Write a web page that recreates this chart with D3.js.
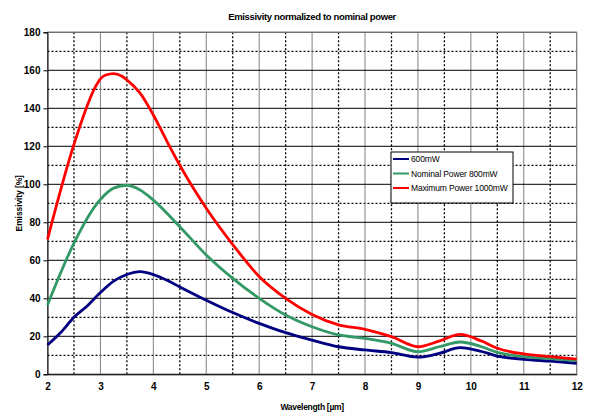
<!DOCTYPE html>
<html>
<head>
<meta charset="utf-8">
<script src="https://cdn.jsdelivr.net/npm/d3@7"></script>
<style>
  body { margin: 0; background: #fff; }
  svg text { font-family: "Liberation Sans", Arial, sans-serif; }
</style>
</head>
<body>
<div id="chart"></div>
<script>
// wavelength [um] and emissivity [%]
var wl600 = [2, 2.25, 2.5, 2.75, 3, 3.25, 3.5, 3.75, 4, 4.25, 4.5, 5, 5.5, 6, 6.5, 7, 7.5, 8, 8.5, 9, 9.4, 9.8, 10.2, 10.5, 11, 11.5, 12];
var em600 = [15.4, 22, 30, 36, 43, 49, 52.5, 54, 52.5, 49.6, 46, 39, 32.5, 26.8, 21.9, 18, 14.5, 12.8, 11.4, 9, 11, 14, 12, 9.6, 7.9, 6.9, 5.8];

var wl800 = [2, 2.5, 2.9, 3, 3.25, 3.5, 3.75, 4, 4.5, 5, 5.5, 6, 6.5, 7, 7.5, 8, 8.5, 9, 9.4, 9.8, 10.2, 10.5, 11, 11.5, 12];
var em800 = [36.5, 69, 88.5, 92, 98, 99.5, 97, 91.7, 77.7, 62.8, 50.5, 40, 31.2, 25, 20.7, 18.9, 16.3, 11.9, 14.5, 17, 14.5, 11.5, 9.3, 8.2, 7.2];

var wl1000 = [2, 2.5, 2.9, 3, 3.1, 3.25, 3.4, 3.5, 3.75, 4, 4.25, 4.5, 5, 5.5, 6, 6.5, 7, 7.5, 8, 8.5, 9, 9.4, 9.8, 10.2, 10.5, 11, 11.5, 12];
var em1000 = [71, 121, 151, 155.5, 157.5, 158.3, 157, 155, 148, 136.5, 123, 110, 87.4, 68.3, 51.5, 40, 31.5, 26, 23.7, 19.8, 14.5, 17.5, 21, 17.5, 13.7, 10.7, 9.3, 8];

var seriesNames = ["600mW", "Nominal Power 800mW", "Maximum Power 1000mW"];
var seriesColors = ["#000080", "#339966", "#ff0000"];

var xTicks = [2, 3, 4, 5, 6, 7, 8, 9, 10, 11, 12];
var yTicks = [0, 20, 40, 60, 80, 100, 120, 140, 160, 180];

function init() {
    var w = 589, h = 414;
    var padLeft = 47.5, padRight = 576.7, padTop = 32.3, padBottom = 374.3;

    var svg = d3.select("#chart").append("svg")
        .attr("width", w)
        .attr("height", h);

    var xScale = d3.scaleLinear().domain([2, 12]).range([padLeft, padRight]);
    var yScale = d3.scaleLinear().domain([0, 180]).range([padBottom, padTop]);

    // minor dotted grid
    var xMinor = d3.range(2.5, 12, 1);
    var yMinor = d3.range(10, 180, 20);
    svg.selectAll(".xminor").data(xMinor).enter().append("line")
        .attr("x1", function(d) { return xScale(d); })
        .attr("x2", function(d) { return xScale(d); })
        .attr("y1", padTop).attr("y2", padBottom)
        .attr("stroke", "#000").attr("stroke-width", 1.3)
        .attr("stroke-dasharray", "2,2");
    svg.selectAll(".yminor").data(yMinor).enter().append("line")
        .attr("x1", padLeft).attr("x2", padRight)
        .attr("y1", function(d) { return yScale(d); })
        .attr("y2", function(d) { return yScale(d); })
        .attr("stroke", "#000").attr("stroke-width", 1.3)
        .attr("stroke-dasharray", "2,2");

    // major grid
    svg.selectAll(".xmajor").data(xTicks).enter().append("line")
        .attr("x1", function(d) { return xScale(d); })
        .attr("x2", function(d) { return xScale(d); })
        .attr("y1", padTop).attr("y2", padBottom)
        .attr("stroke", "#808080").attr("stroke-width", 1);
    svg.selectAll(".ymajor").data(yTicks).enter().append("line")
        .attr("x1", padLeft).attr("x2", padRight)
        .attr("y1", function(d) { return yScale(d); })
        .attr("y2", function(d) { return yScale(d); })
        .attr("stroke", "#000").attr("stroke-width", 1);

    // plot border
    svg.append("rect")
        .attr("x", padLeft).attr("y", padTop)
        .attr("width", padRight - padLeft).attr("height", padBottom - padTop)
        .attr("fill", "none").attr("stroke", "#808080");

    // axes
    var xAxis = d3.axisBottom(xScale).tickValues(xTicks).tickSize(0).tickPadding(9)
        .tickFormat(d3.format("d"));
    var gx = svg.append("g")
        .attr("transform", "translate(0," + padBottom + ")")
        .call(xAxis);
    gx.select(".domain").attr("stroke", "#000");

    var yAxis = d3.axisLeft(yScale).tickValues(yTicks).tickSize(4).tickPadding(3)
        .tickFormat(d3.format("d"));
    var gy = svg.append("g")
        .attr("transform", "translate(" + padLeft + ",0)")
        .call(yAxis);
    gy.select(".domain").attr("stroke", "#000");

    svg.selectAll(".tick text")
        .attr("font-size", "10px")
        .attr("font-weight", "bold")
        .attr("fill", "#000")
        .style("font-family", "'Liberation Sans', Arial, sans-serif");

    // curves
    var series = [
        { x: wl600, y: em600 },
        { x: wl800, y: em800 },
        { x: wl1000, y: em1000 }
    ];

    var line = d3.line()
        .x(function(d) { return xScale(d[0]); })
        .y(function(d) { return yScale(d[1]); })
        .curve(d3.curveMonotoneX);

    series.forEach(function(s, i) {
        svg.append("path")
            .datum(d3.zip(s.x, s.y))
            .attr("d", line)
            .attr("fill", "none")
            .attr("stroke", seriesColors[i])
            .attr("stroke-width", 2.8)
            .attr("stroke-linejoin", "round");
    });

    // legend
    var legend = svg.append("g").attr("transform", "translate(391,152)");
    legend.append("rect")
        .attr("width", 122).attr("height", 51)
        .attr("fill", "#fff").attr("stroke", "#000");
    seriesNames.forEach(function(name, i) {
        var y = 7 + i * 14.5;
        legend.append("line")
            .attr("x1", 2).attr("x2", 18)
            .attr("y1", y).attr("y2", y)
            .attr("stroke", seriesColors[i]).attr("stroke-width", 2);
        legend.append("text")
            .attr("x", 20).attr("y", y + 3)
            .attr("font-size", "8.5px")
            .attr("fill", "#000")
            .attr("letter-spacing", "-0.15")
            .text(name);
    });

    // title and axis labels
    svg.append("text")
        .attr("x", (padLeft + padRight) / 2).attr("y", 20)
        .attr("text-anchor", "middle")
        .attr("font-size", "9.5px")
        .attr("font-weight", "bold")
        .attr("letter-spacing", "-0.35")
        .text("Emissivity normalized to nominal power");

    svg.append("text")
        .attr("x", (padLeft + padRight) / 2).attr("y", 410)
        .attr("text-anchor", "middle")
        .attr("font-size", "8.5px")
        .attr("font-weight", "bold")
        .attr("letter-spacing", "-0.3")
        .text("Wavelength [µm]");

    svg.append("text")
        .attr("transform", "rotate(-90)")
        .attr("x", -(padTop + padBottom) / 2).attr("y", 22)
        .attr("text-anchor", "middle")
        .attr("font-size", "8.5px")
        .attr("font-weight", "bold")
        .attr("letter-spacing", "-0.1")
        .text("Emissivity [%]");
}
window.onload = init;
</script>
</body>
</html>
